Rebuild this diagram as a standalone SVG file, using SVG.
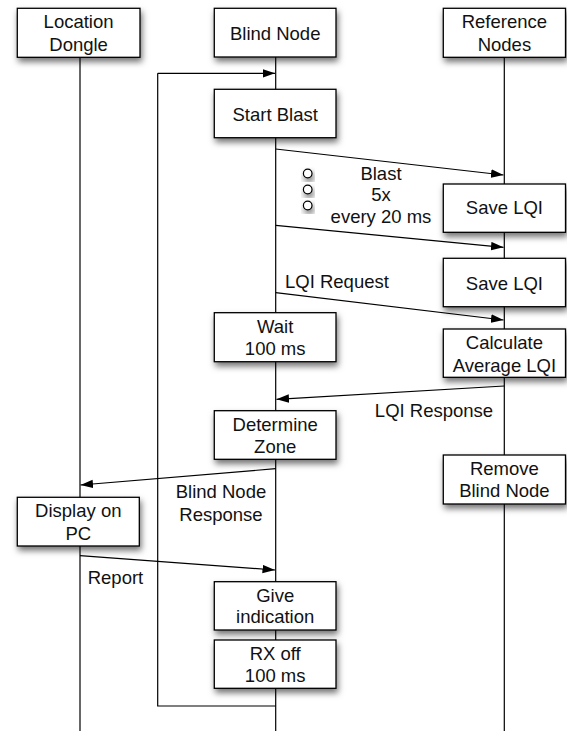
<svg xmlns="http://www.w3.org/2000/svg" width="567" height="731" viewBox="0 0 567 731">
<style>
.box{fill:#fff;stroke:#000;stroke-width:1.3;filter:url(#sh)}
.t{font-family:"Liberation Sans",Arial,sans-serif;font-size:18.5px;fill:#111;text-anchor:middle}
.l{font-family:"Liberation Sans",Arial,sans-serif;font-size:18.5px;fill:#111}
.ln{stroke:#000;stroke-width:1.2;fill:none}
.ar{stroke:#000;stroke-width:1.2;fill:none;marker-end:url(#ah)}
.dot{fill:#fff;stroke:#000;stroke-width:1.2;filter:url(#sh)}
</style>
<defs>
<filter id="sh" x="-20%" y="-20%" width="150%" height="160%">
<feDropShadow dx="1.5" dy="4" stdDeviation="3" flood-color="#000" flood-opacity="0.55"/>
</filter>
<marker id="ah" markerUnits="userSpaceOnUse" markerWidth="13" markerHeight="9" refX="12.5" refY="4.25" orient="auto">
<path d="M0,0 L12.5,4.25 L0,8.5 z" fill="#000"/>
</marker>
</defs>
<rect width="567" height="731" fill="#fff"/>
<g id="connectors">
<line class="ln" x1="80" y1="57" x2="80" y2="731"/>
<line class="ln" x1="275.7" y1="57" x2="275.7" y2="731"/>
<line class="ln" x1="504.3" y1="57" x2="504.3" y2="731"/>
<polyline class="ln" points="275.7,706 157.7,706 157.7,73.3"/>
<line class="ar" x1="157.7" y1="73.3" x2="275" y2="73.3"/>
<line class="ar" x1="275.7" y1="149" x2="503.5" y2="175"/>
<line class="ar" x1="275.7" y1="225.3" x2="503.5" y2="247.3"/>
<line class="ar" x1="275.7" y1="292.7" x2="503.5" y2="320"/>
<line class="ar" x1="504.3" y1="386" x2="276.5" y2="399.3"/>
<line class="ar" x1="275.7" y1="468.7" x2="80.5" y2="485"/>
<line class="ar" x1="80" y1="555.7" x2="275" y2="570"/>
</g>
<g id="dots">
<circle class="dot" cx="307.7" cy="173.5" r="4.3"/>
<circle class="dot" cx="307.7" cy="189.5" r="4.3"/>
<circle class="dot" cx="307.7" cy="205.5" r="4.3"/>
</g>
<g id="labels">
<text class="t" x="381" y="180">Blast</text>
<text class="t" x="381" y="201">5x</text>
<text class="t" x="381" y="222.5">every 20 ms</text>
<text class="l" x="285" y="287.7">LQI Request</text>
<text class="t" x="434" y="417.3">LQI Response</text>
<text class="t" x="221" y="497.7">Blind Node</text>
<text class="t" x="221" y="521">Response</text>
<text class="l" x="87.7" y="584.3">Report</text>
</g>
<g id="location-dongle">
<rect class="box" x="17.3" y="8.3" width="122.7" height="49"/>
<text class="t" x="78.6" y="27.5">Location</text>
<text class="t" x="78.6" y="50.7">Dongle</text>
</g>
<g id="blind-node">
<rect class="box" x="214.3" y="8.3" width="121.7" height="48.7"/>
<text class="t" x="275.2" y="40">Blind Node</text>
</g>
<g id="reference-nodes">
<rect class="box" x="443.3" y="8.3" width="122.2" height="49"/>
<text class="t" x="504.4" y="27.5">Reference</text>
<text class="t" x="504.4" y="50.7">Nodes</text>
</g>
<g id="start-blast">
<rect class="box" x="214.3" y="89.3" width="121.7" height="48.4"/>
<text class="t" x="275.2" y="120.7">Start Blast</text>
</g>
<g id="save-lqi-1">
<rect class="box" x="443.3" y="184" width="122.2" height="48.3"/>
<text class="t" x="504.4" y="214">Save LQI</text>
</g>
<g id="save-lqi-2">
<rect class="box" x="443.3" y="258.3" width="122.2" height="48.4"/>
<text class="t" x="504.4" y="290">Save LQI</text>
</g>
<g id="wait">
<rect class="box" x="214.3" y="312.7" width="121.7" height="49"/>
<text class="t" x="275.2" y="332.7">Wait</text>
<text class="t" x="275.2" y="355.3">100 ms</text>
</g>
<g id="calculate">
<rect class="box" x="443.3" y="329" width="122.2" height="48.3"/>
<text class="t" x="504.4" y="349.3">Calculate</text>
<text class="t" x="504.4" y="371.7">Average LQI</text>
</g>
<g id="determine-zone">
<rect class="box" x="214.3" y="410.7" width="121.7" height="48.6"/>
<text class="t" x="275.2" y="430.7">Determine</text>
<text class="t" x="275.2" y="453.3">Zone</text>
</g>
<g id="remove-blind-node">
<rect class="box" x="443.3" y="455" width="122.2" height="49"/>
<text class="t" x="504.4" y="475">Remove</text>
<text class="t" x="504.4" y="497.3">Blind Node</text>
</g>
<g id="display-on-pc">
<rect class="box" x="17.3" y="497.3" width="122" height="48.7"/>
<text class="t" x="78.3" y="516.7">Display on</text>
<text class="t" x="78.3" y="540">PC</text>
</g>
<g id="give-indication">
<rect class="box" x="214.3" y="581.7" width="121.7" height="48.3"/>
<text class="t" x="275.2" y="601.7">Give</text>
<text class="t" x="275.2" y="623.3">indication</text>
</g>
<g id="rx-off">
<rect class="box" x="214.3" y="640" width="121.7" height="48.3"/>
<text class="t" x="275.2" y="660">RX off</text>
<text class="t" x="275.2" y="682.3">100 ms</text>
</g>
</svg>
